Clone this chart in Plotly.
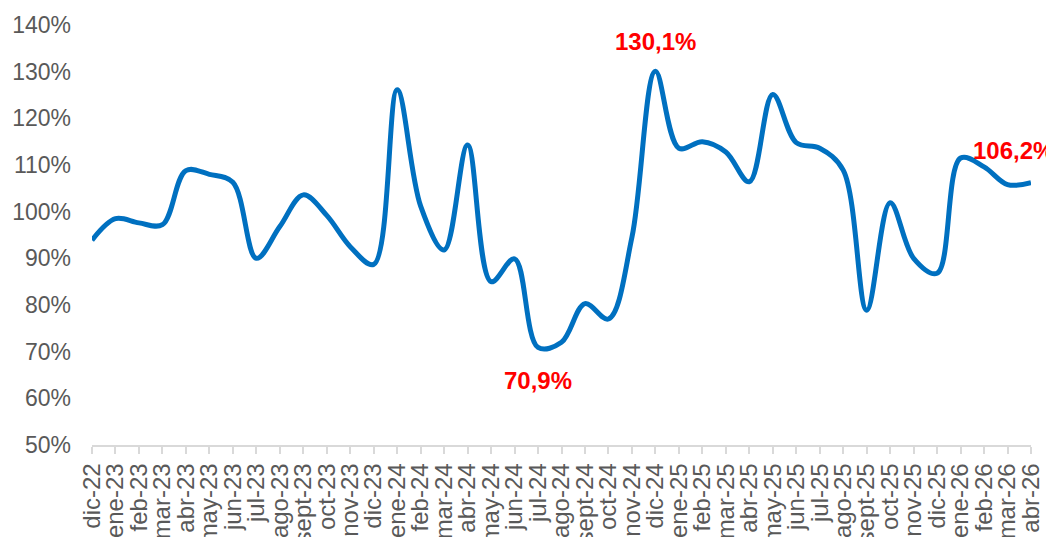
import plotly.graph_objects as go

months = ["dic-22", "ene-23", "feb-23", "mar-23", "abr-23", "may-23", "jun-23", "jul-23",
          "ago-23", "sept-23", "oct-23", "nov-23", "dic-23", "ene-24", "feb-24", "mar-24",
          "abr-24", "may-24", "jun-24", "jul-24", "ago-24", "sept-24", "oct-24", "nov-24",
          "dic-24", "ene-25", "feb-25", "mar-25", "abr-25", "may-25", "jun-25", "jul-25",
          "ago-25", "sept-25", "oct-25", "nov-25", "dic-25", "ene-26", "feb-26", "mar-26",
          "abr-26"]
values = [93.9, 98.5, 97.6, 97.2, 108.8, 108.0, 106.3, 90.0,
          96.8, 103.6, 99.2, 92.5, 88.7, 126.1, 101.2, 91.8,
          114.3, 85.0, 89.9, 70.9, 72.0, 80.3, 77.0, 94.5,
          130.1, 113.6, 115.0, 112.8, 106.4, 125.1, 114.8, 113.6,
          108.9, 78.9, 101.9, 90.0, 86.8, 111.5, 109.6, 105.8,
          106.2]
highlights = ["dic-24", "jul-24", "abr-26"]
hl_shift = {"dic-24": (0, 30), "jul-24": (0, -33), "abr-26": (-18, 32)}

FONT = "Liberation Sans, Arial, sans-serif"

fig = go.Figure()
fig.add_trace(go.Scatter(
    x=months, y=values, mode="lines",
    line=dict(color="#0070C0", width=5, shape="spline", smoothing=1.0),
    hoverinfo="x+y", showlegend=False, cliponaxis=False,
))

for m in highlights:
    v = values[months.index(m)]
    dx, dy = hl_shift[m]
    fig.add_annotation(
        x=m, y=v, text=f"{v:.1f}".replace(".", ",") + "%",
        showarrow=False, xanchor="center", yanchor="middle",
        xshift=dx, yshift=dy,
        font=dict(family=FONT, size=24, color="#FF0000", weight="bold"),
    )

# page body has an 8px default margin; size the figure to fit the 1054x537 window
fig.update_layout(
    width=1046, height=529,
    margin=dict(l=84, r=23, t=17, b=92, autoexpand=False),
    paper_bgcolor="white", plot_bgcolor="white",
    font=dict(family=FONT, size=23, color="#595959"),
)
fig.update_xaxes(
    type="category", range=[0, len(months) - 1], automargin=False,
    tickmode="linear", tick0=0, dtick=1,
    tickangle=-90, showgrid=False, showline=True, linecolor="#D9D9D9", linewidth=1.5,
    ticks="outside", ticklen=7, tickcolor="#D9D9D9", tickwidth=1.5,
    tickfont=dict(family=FONT, size=24, color="#595959"),
)
fig.update_yaxes(
    range=[50, 140], dtick=10, tick0=50, ticksuffix="%", automargin=False,
    showgrid=False, zeroline=False, showline=False, ticks="",
    ticklabelstandoff=20,
    tickfont=dict(family=FONT, size=23, color="#595959"),
)

fig.write_html("out.html")
